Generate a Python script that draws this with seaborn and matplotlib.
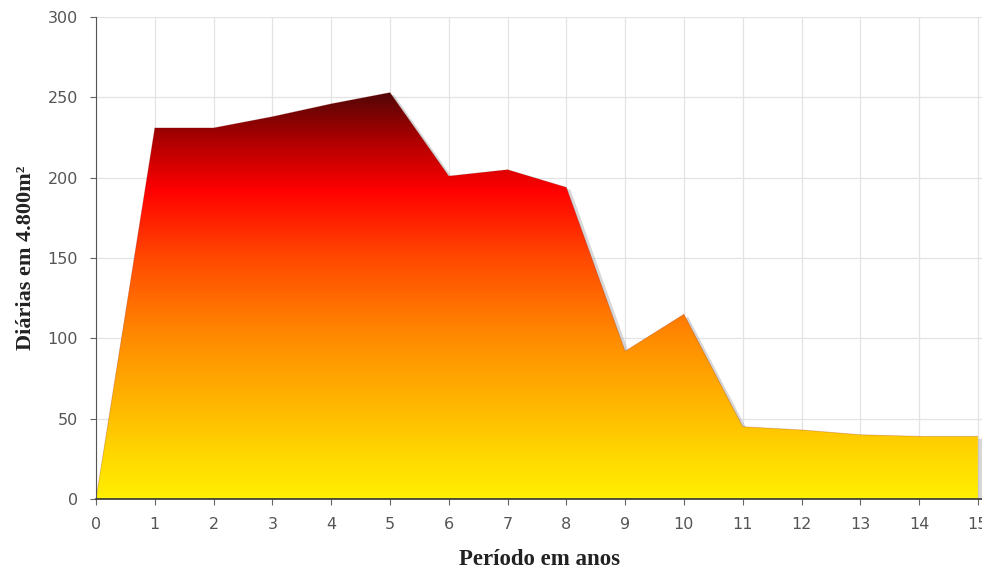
import numpy as np
import matplotlib
matplotlib.use("Agg")
import matplotlib.pyplot as plt
import seaborn as sns
import pandas as pd
from matplotlib.colors import LinearSegmentedColormap
from matplotlib.patches import Polygon

years = [0, 1, 2, 3, 4, 5, 6, 7, 8, 9, 10, 11, 12, 13, 14, 15]
diarias = [0, 231, 231, 238, 246, 253, 201, 205, 194, 92, 115, 45, 43, 40, 39, 39]
yticks = [0, 50, 100, 150, 200, 250, 300]

sns.set_style("white")
plt.rcParams['font.family'] = ['DejaVu Sans']

fig = plt.figure(figsize=(9.82, 5.7), dpi=100)
ax = fig.add_axes([0.0978, 0.1246, 0.9022, 0.8454])

df = pd.DataFrame({"ano": years, "v": diarias})

# shadow
sx = np.array(years, float) + 0.07
sy = np.array(diarias, float) - 1.5
shadow = Polygon(np.column_stack([np.r_[sx, sx[-1], sx[0]], np.r_[sy, 0, 0]]),
                 closed=True, facecolor="#b0b0b0", edgecolor="none", alpha=0.5, zorder=2)
ax.add_patch(shadow)

cmap = LinearSegmentedColormap.from_list("heat", [
    (0.0, "#FFF000"), (0.12, "#FFD400"), (0.40, "#FF8A00"),
    (0.60, "#FF4600"), (0.76, "#FF0000"), (0.88, "#B00000"), (1.0, "#520606")])
ymax = max(diarias)
grad = np.linspace(0, 1, 256).reshape(-1, 1)
im = ax.imshow(grad, cmap=cmap, origin="lower", aspect="auto",
               extent=[0, 15, 0, ymax], zorder=3, interpolation="bicubic")
poly = Polygon(np.column_stack([np.r_[years, years[-1], years[0]], np.r_[diarias, 0, 0]]),
               closed=True, facecolor="none", edgecolor="none")
ax.add_patch(poly)
im.set_clip_path(poly)

sns.lineplot(data=df, x="ano", y="v", ax=ax, color="#7a0a0a", linewidth=0.6, alpha=0.25, zorder=4)

ax.set_xlim(0, 15.07)
ax.set_ylim(0, 300)
ax.set_xticks(years)
ax.set_yticks(yticks)
ax.grid(True, color="#e3e3e3", linewidth=0.9, zorder=0)
ax.set_axisbelow(True)
for s in ["top", "right"]:
    ax.spines[s].set_visible(False)
ax.spines["left"].set_color("#555555")
ax.spines["bottom"].set_color("#333333")
ax.spines["bottom"].set_linewidth(1.2)
ax.spines["left"].set_zorder(5)
ax.spines["bottom"].set_zorder(5)
ax.tick_params(axis="both", direction="out", length=4, color="#666666",
               labelcolor="#555555", labelsize=11.5, bottom=True, left=True, pad=9)
ax.set_xlabel("Período em anos", fontfamily="Liberation Serif", fontweight="bold",
              fontsize=16.5, color="#222222", labelpad=12)
ax.set_ylabel("Diárias em 4.800m²", fontfamily="Liberation Serif", fontweight="bold",
              fontsize=16, color="#222222", labelpad=8)
fig.savefig("out.png", dpi=100)
